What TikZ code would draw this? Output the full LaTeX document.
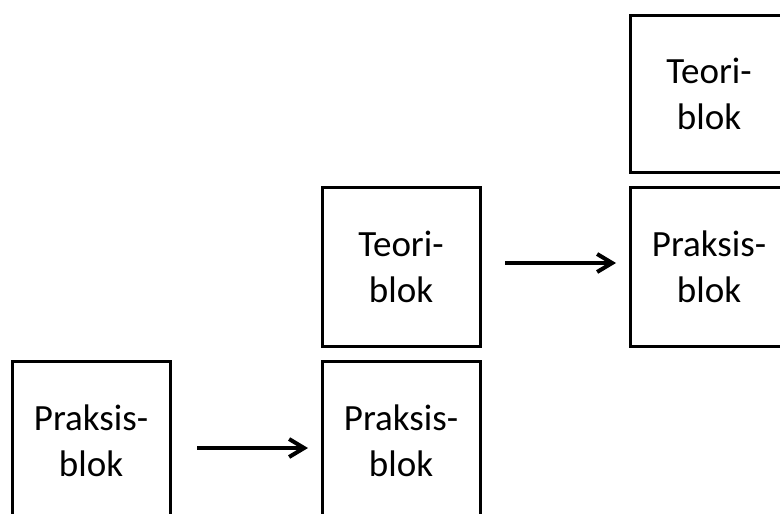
\documentclass[tikz,border=0pt]{standalone}
\usepackage{fontspec}
\setmainfont{Carlito}
\usetikzlibrary{positioning,arrows.meta}
\tikzset{
    blocknode/.style = {
        align=center,
        text centered,
        rectangle,
        draw=black,
        line width=3pt,
        font=\fontsize{37}{46}\selectfont,
        minimum width=158pt,
        minimum height=159pt,
        inner sep=0pt,
        outer sep=0pt
    },
    steparrow/.style = {
        line width=4pt,
        -{Straight Barb[length=15pt,width=18pt,line width=4pt]}
    }
}
\begin{document}
\begin{tikzpicture}[x=1pt,y=1pt]
    \clip (0,0) rectangle (780,-514);
    \fill[white] (0,0) rectangle (780,-514);
    % stage 1
    \node [blocknode] (praksisA) at (91,-441) {Praksis-\\blok};
    % stage 2
    \node [blocknode, right=152pt of praksisA] (praksisB) {Praksis-\\blok};
    \node [blocknode, above=15pt of praksisB] (teoriB) {Teori-\\blok};
    % stage 3
    \node [blocknode, right=150pt of teoriB] (praksisC) {Praksis-\\blok};
    \node [blocknode, above=15pt of praksisC, minimum height=157pt] (teoriC) {Teori-\\blok};
    % arrows
    \draw [steparrow, shorten <=27pt, shorten >=14pt]
        ([yshift=-7pt]praksisA.east) -- ([yshift=-7pt]praksisB.west);
    \draw [steparrow, shorten <=25pt, shorten >=14pt]
        ([yshift=4pt]teoriB.east) -- ([yshift=4pt]praksisC.west);
\end{tikzpicture}
\end{document}
